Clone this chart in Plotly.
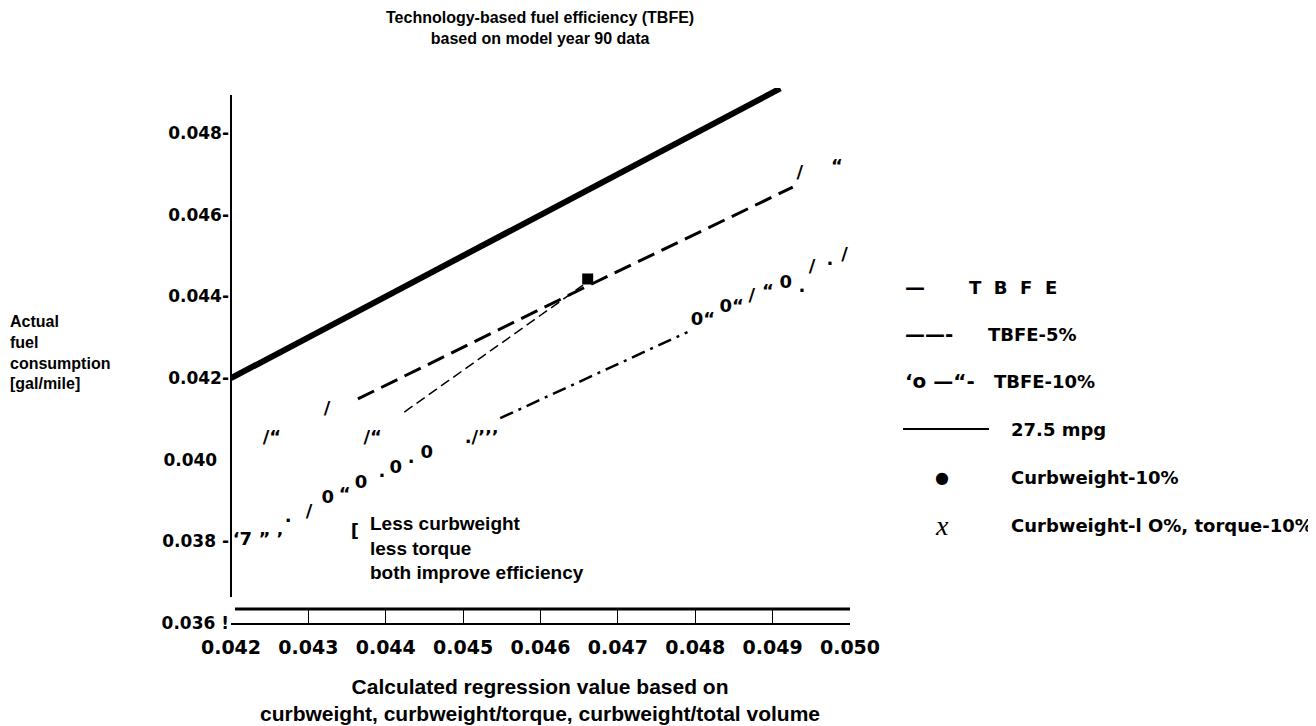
import plotly.graph_objects as go

# ---- data ----
tbfe_x = [0.0420, 0.0491]
tbfe_y = [0.0420, 0.0491]

tbfe5_x = [0.04364, 0.04660, 0.04926]
tbfe5_y = [0.04149, 0.04425, 0.04668]

tbfe10_x = [0.04548, 0.04790]
tbfe10_y = [0.04102, 0.04313]

path_x = [0.04424, 0.04655]
path_y = [0.04117, 0.04428]

curb_x = [0.04661]
curb_y = [0.04443]

# stray scanned glyphs scattered along the lines
glyph_text = ["/“", "/", "/“", "./’’’", "‘7 ” ’", ".", "/", "0", "“", "0", ".", "0", ".", "0", "[",
              "0“", "0“", "/", "“", "0", ".", "/", ".", "/", "/", "“"]
glyph_x = [0.04253, 0.04324, 0.04383, 0.04524, 0.04235, 0.04274, 0.04301, 0.04325, 0.04347, 0.04368,
           0.04395, 0.04413, 0.04433, 0.04453, 0.04360,
           0.04810, 0.04847, 0.04873, 0.04894, 0.04917, 0.04938, 0.04951, 0.04974, 0.04993, 0.04935, 0.04983]
glyph_y = [0.04053, 0.04122, 0.04053, 0.04053, 0.03803, 0.03859, 0.03872, 0.03906, 0.03913, 0.03943,
           0.03970, 0.03979, 0.04004, 0.04016, 0.03823,
           0.04342, 0.04372, 0.04399, 0.04411, 0.04433, 0.04423, 0.04472, 0.04489, 0.04501, 0.04702, 0.04715]

x_ticks = [0.042, 0.043, 0.044, 0.045, 0.046, 0.047, 0.048, 0.049, 0.050]
y_ticks = [0.036, 0.038, 0.040, 0.042, 0.044, 0.046, 0.048]
y_ticktext = ["0.036 !", "0.038 -", "0.040\u00a0\u00a0", "0.042-", "0.044-", "0.046-", "0.048-"]

legend_samples = ["—", "——-", "‘o —“-", "", "●", "<i>x</i>"]
legend_labels = ["T\u00a0\u00a0B\u00a0\u00a0F\u00a0\u00a0E", "TBFE-5%", "TBFE-10%", "27.5 mpg",
                 "Curbweight-10%", "Curbweight-l O%, torque-10%"]

# ---- geometry of the plot area, in reference pixels ----
# the html page has an 8px body margin, so the figure is made 8px smaller
OFF = 8
W, H = 1316, 726
L, R, T, B = 231, 850, 88, 623


def px(xp):
    return (xp - L) / (R - L)


def py(yp):
    return (B - yp) / (B - T)


BOLD = "DejaVu Sans"
ARIAL = "Liberation Sans, Arial"

fig = go.Figure()

fig.add_trace(go.Scatter(x=tbfe_x, y=tbfe_y, mode="lines",
                         line=dict(color="black", width=6)))
fig.add_trace(go.Scatter(x=tbfe5_x, y=tbfe5_y, mode="lines",
                         line=dict(color="black", width=3, dash="18px,8px")))
fig.add_trace(go.Scatter(x=tbfe10_x, y=tbfe10_y, mode="lines",
                         line=dict(color="black", width=2.5, dash="14px,6px,3px,6px")))
fig.add_trace(go.Scatter(x=path_x, y=path_y, mode="lines",
                         line=dict(color="black", width=1.5, dash="10px,5px")))
fig.add_trace(go.Scatter(x=curb_x, y=curb_y, mode="markers",
                         marker=dict(symbol="square", size=11, color="black")))
fig.add_trace(go.Scatter(x=glyph_x, y=glyph_y, mode="text", text=glyph_text,
                         textposition="middle center", cliponaxis=False,
                         textfont=dict(family=BOLD, size=18, color="black", weight="bold")))

# title
fig.add_annotation(xref="paper", yref="paper", x=px(540), y=py(28),
                   text="<b>Technology-based fuel efficiency (TBFE)<br>based on model year 90 data</b>",
                   showarrow=False, xanchor="center", yanchor="middle",
                   font=dict(family=ARIAL, size=16, color="black"))
# y title
fig.add_annotation(xref="paper", yref="paper", x=px(8), y=py(352),
                   text="<b>Actual<br>fuel<br>consumption<br>[gal/mile]</b>",
                   showarrow=False, xanchor="left", yanchor="middle", align="left",
                   font=dict(family=ARIAL, size=16, color="black"))
# x title
fig.add_annotation(xref="paper", yref="paper", x=px(540), y=py(700),
                   text="<b>Calculated regression value based on<br>"
                        "curbweight, curbweight/torque, curbweight/total volume</b>",
                   showarrow=False, xanchor="center", yanchor="middle",
                   font=dict(family=ARIAL, size=21, color="black"))
# note
fig.add_annotation(xref="x", yref="y", x=0.04377, y=0.03783,
                   text="<b>Less curbweight<br>less torque<br>both improve efficiency</b>",
                   showarrow=False, xanchor="left", yanchor="middle", align="left",
                   font=dict(family=ARIAL, size=19, color="black"))

# hand-drawn legend
row_y = [287, 334, 381, 429, 477, 525]
label_x = [967, 986, 992, 1009, 1009, 1009]
for i, (s, lab) in enumerate(zip(legend_samples, legend_labels)):
    if s:
        centered = s in ("●", "<i>x</i>")
        if s == "<i>x</i>":
            f = dict(family="Liberation Serif", size=28, color="black")
        else:
            f = dict(family=BOLD, size=16 if s == "●" else 20, color="black", weight="bold")
        fig.add_annotation(xref="paper", yref="paper",
                           x=px(942 if centered else 903), y=py(row_y[i]),
                           text=s, showarrow=False,
                           xanchor="center" if centered else "left", yanchor="middle",
                           font=f)
    fig.add_annotation(xref="paper", yref="paper", x=px(label_x[i]), y=py(row_y[i]),
                       text="<b>" + lab + "</b>", showarrow=False,
                       xanchor="left", yanchor="middle",
                       font=dict(family=BOLD, size=18, color="black"))

# 27.5 mpg legend line, y axis line, doubled x axis line
fig.add_shape(type="line", xref="paper", yref="paper", x0=px(903), x1=px(989),
              y0=py(429), y1=py(429), line=dict(color="black", width=2))
fig.add_shape(type="line", xref="paper", yref="paper", x0=0, x1=0,
              y0=py(597), y1=py(95), line=dict(color="black", width=2))
fig.add_shape(type="line", xref="paper", yref="paper", x0=px(235), x1=1,
              y0=py(609), y1=py(609), line=dict(color="black", width=3))

fig.update_layout(
    width=W - OFF, height=H - OFF,
    margin=dict(l=L - OFF, r=W - R, t=T - OFF, b=H - B),
    plot_bgcolor="white", paper_bgcolor="white",
    showlegend=False,
    xaxis=dict(range=[0.042, 0.050], tickvals=x_ticks,
               ticktext=["%.3f" % v for v in x_ticks],
               showline=True, linecolor="black", linewidth=1.5,
               ticks="inside", ticklen=14, tickwidth=1, tickcolor="black",
               showgrid=False, zeroline=False, ticklabelstandoff=6,
               tickfont=dict(family=BOLD, size=19, color="black", weight="bold")),
    yaxis=dict(range=[0.036, 0.04911], tickvals=y_ticks, ticktext=y_ticktext,
               showline=False, ticks="", showgrid=False, zeroline=False,
               ticklabelstandoff=1,
               tickfont=dict(family=BOLD, size=17, color="black", weight="bold")),
)

fig.write_html("out.html")
